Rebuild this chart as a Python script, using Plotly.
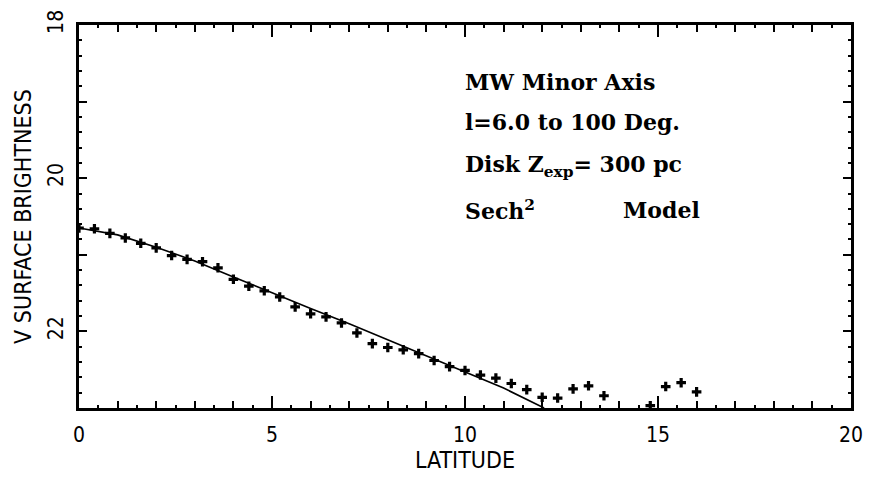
import plotly.graph_objects as go

# observed V surface brightness along the minor axis (mag / sq. arcsec)
lat_obs = [0.0, 0.4, 0.8, 1.2, 1.6, 2.0, 2.4, 2.8, 3.2, 3.6, 4.0, 4.4, 4.8, 5.2, 5.6,
           6.0, 6.4, 6.8, 7.2, 7.6, 8.0, 8.4, 8.8, 9.2, 9.6, 10.0, 10.4, 10.8, 11.2, 11.6,
           12.0, 12.4, 12.8, 13.2, 13.6, 14.8, 15.2, 15.6, 16.0]
sb_obs = [20.65, 20.66, 20.72, 20.78, 20.85, 20.91, 21.01, 21.06, 21.09, 21.17, 21.32,
          21.41, 21.47, 21.55, 21.68, 21.77, 21.81, 21.89, 22.02, 22.16, 22.21, 22.24,
          22.29, 22.38, 22.46, 22.51, 22.57, 22.61, 22.68, 22.76, 22.86, 22.87, 22.75,
          22.71, 22.84, 22.97, 22.72, 22.67, 22.79]

# sech^2 disk model curve
lat_model = [0, 1, 2, 3, 4, 5, 6, 7, 8, 9, 10, 11, 12.05]
sb_model = [20.65, 20.74, 20.90, 21.08, 21.29, 21.50, 21.70, 21.90, 22.11, 22.32,
            22.52, 22.74, 23.0]

x_tickvals = [0, 5, 10, 15, 20]
y_tickvals = [18, 20, 22]

label_lines = ["MW Minor Axis", "l=6.0 to 100 Deg.", "Disk Z<sub>exp</sub>= 300 pc",
               "Sech<sup>2</sup>"]
label_y = [18.74, 19.27, 19.84, 20.42]

sans = "Liberation Sans Narrow, DejaVu Sans Condensed, Roboto Condensed, DejaVu Sans"
serif = "DejaVu Serif"

fig = go.Figure()

# model curve sits on the overlay axes (they carry the fine tick marks)
fig.add_trace(go.Scatter(
    x=lat_model, y=sb_model, mode="lines",
    line=dict(color="black", width=1.6),
    xaxis="x2", yaxis="y2", showlegend=False, hoverinfo="skip",
))
fig.add_trace(go.Scatter(
    x=lat_obs, y=sb_obs, mode="markers",
    marker=dict(symbol="cross", size=8, color="black"),
    showlegend=False,
))

for txt, yv in zip(label_lines, label_y):
    fig.add_annotation(x=9.95, y=yv, xref="x", yref="y", text="<b>" + txt + "</b>",
                       showarrow=False, xanchor="left", yanchor="middle",
                       font=dict(family=serif, size=22, color="black"))
fig.add_annotation(x=14.05, y=label_y[3], xref="x", yref="y", text="<b>Model</b>",
                   showarrow=False, xanchor="left", yanchor="middle",
                   font=dict(family=serif, size=22, color="black"))

# page body has an 8px margin, so the figure is a bit smaller than the window
fig.update_layout(
    width=856, height=465,
    margin=dict(l=71, r=13, t=17, b=65),
    plot_bgcolor="white", paper_bgcolor="white",
    font=dict(family=sans, color="black", size=21),
    xaxis=dict(
        range=[0, 20], tickmode="array", tickvals=x_tickvals,
        ticks="inside", ticklen=12, tickwidth=2, tickcolor="black",
        minor=dict(dtick=1, ticks="inside", ticklen=7, tickwidth=2, tickcolor="black"),
        showline=True, linewidth=2.5, linecolor="black", mirror="ticks",
        showgrid=False, zeroline=False, ticklabelstandoff=6, automargin=False,
        ticklabeloverflow="allow",
        title=dict(text="LATITUDE", font=dict(size=23), standoff=17),
    ),
    xaxis2=dict(
        range=[0, 20], overlaying="x", side="bottom", dtick=0.5,
        ticks="inside", ticklen=3, tickwidth=2, tickcolor="black",
        showticklabels=False, showgrid=False, zeroline=False,
        mirror="ticks", showline=False, automargin=False,
    ),
    yaxis=dict(
        range=[23, 18], tickmode="array", tickvals=y_tickvals, tickangle=-90,
        ticks="inside", ticklen=8, tickwidth=2, tickcolor="black",
        minor=dict(dtick=1, ticks="inside", ticklen=8, tickwidth=2, tickcolor="black"),
        showline=True, linewidth=2.5, linecolor="black", mirror="ticks",
        showgrid=False, zeroline=False, ticklabelstandoff=5, automargin=False,
        title=dict(text="V SURFACE BRIGHTNESS", font=dict(size=23), standoff=6),
    ),
    yaxis2=dict(
        range=[23, 18], overlaying="y", side="left", dtick=0.2,
        ticks="inside", ticklen=3, tickwidth=2, tickcolor="black",
        showticklabels=False, showgrid=False, zeroline=False,
        mirror="ticks", showline=False, automargin=False,
    ),
)

fig.write_html("out.html")
